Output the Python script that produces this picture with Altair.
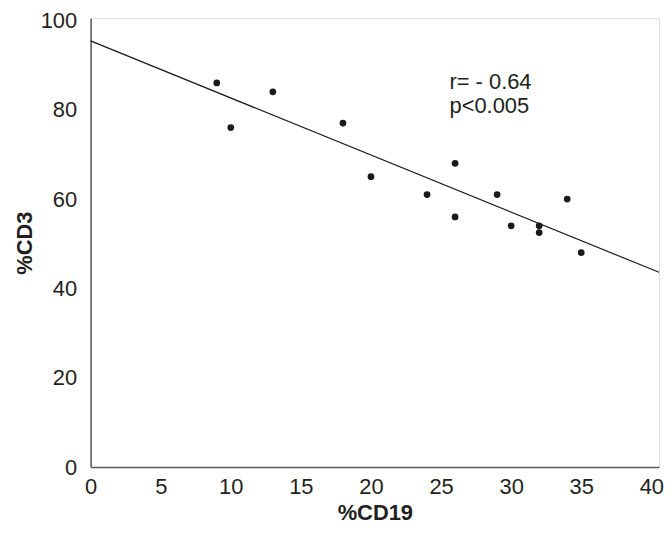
import altair as alt
import pandas as pd

# Data
cd19 = [9, 10, 13, 18, 20, 24, 26, 26, 29, 30, 32, 32, 34, 35]
cd3 = [86, 76, 84, 77, 65, 61, 68, 56, 61, 54, 54, 52.5, 60, 48]

line_x = [0, 40.55]
line_y = [95.4, 43.6]

x_ticks = [0, 5, 10, 15, 20, 25, 30, 35, 40]
y_ticks = [0, 20, 40, 60, 80, 100]

annot_lines = ["r= - 0.64", "p<0.005"]
annot_x = [25.6]
annot_y = [84.6]

FONT = "Liberation Sans"
TXT = "#231f20"

pts = pd.DataFrame({"cd19": cd19, "cd3": cd3})
ln = pd.DataFrame({"cd19": line_x, "cd3": line_y})
ann = pd.DataFrame({"cd19": annot_x, "cd3": annot_y})

xscale = alt.Scale(domain=[0, 40.55], nice=False, zero=True)
yscale = alt.Scale(domain=[0, 100.5], nice=False, zero=True)

xaxis = alt.Axis(
    title="%CD19", values=x_ticks, grid=False, ticks=False, domainColor="#5a5a5a",
    domainWidth=1.5, labelFont=FONT, labelFontSize=22, labelColor=TXT,
    labelPadding=10, titleFont=FONT, titleFontSize=22, titleFontWeight="bold",
    titleColor=TXT, titlePadding=5, labelFlush=False,
)
yaxis = alt.Axis(
    title="%CD3", values=y_ticks, grid=False, ticks=False, domainColor="#5a5a5a",
    domainWidth=1.5, labelFont=FONT, labelFontSize=22, labelColor=TXT,
    labelPadding=14, titleFont=FONT, titleFontSize=22, titleFontWeight="bold",
    titleColor=TXT, titlePadding=4, labelFlush=False,
)

points = alt.Chart(pts).mark_circle(size=46, color="#1a1a1a", opacity=1).encode(
    x=alt.X("cd19:Q", scale=xscale, axis=xaxis),
    y=alt.Y("cd3:Q", scale=yscale, axis=yaxis),
)

reg = alt.Chart(ln).mark_line(color="#1a1a1a", strokeWidth=1.2, clip=False).encode(
    x=alt.X("cd19:Q", scale=xscale),
    y=alt.Y("cd3:Q", scale=yscale),
)

text = alt.Chart(ann).mark_text(
    text=annot_lines, align="left", baseline="alphabetic", font=FONT,
    fontSize=22, color=TXT, lineHeight=24,
).encode(
    x=alt.X("cd19:Q", scale=xscale),
    y=alt.Y("cd3:Q", scale=yscale),
)

chart = alt.layer(reg, points, text).properties(
    width=571, height=517,
    autosize=alt.AutoSizeParams(type="fit-y", contains="padding"),
    padding={"left": 5, "top": 0, "right": 0, "bottom": 0},
).configure_view(stroke=None).configure(background="white")

chart.save("out.html", embed_options={"renderer": "svg", "actions": False})
